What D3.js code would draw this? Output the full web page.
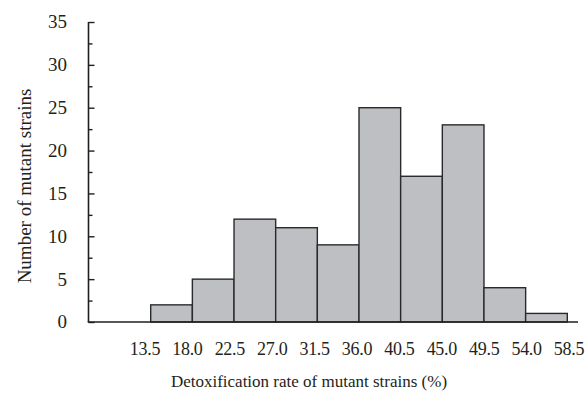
<!DOCTYPE html>
<html>
<head>
<meta charset="utf-8">
<script src="https://cdn.jsdelivr.net/npm/d3@7"></script>
<style>
  body { margin: 0; background: #fff; }
  svg text { font-family: "Liberation Serif", "Times New Roman", serif; fill: #231f20; }
</style>
</head>
<body>
<div id="chart"></div>
<script>
// bin edges (detoxification rate, %) and counts per bin
var binEdges = [13.5, 18.0, 22.5, 27.0, 31.5, 36.0, 40.5, 45.0, 49.5, 54.0, 58.5];
var counts = [2, 5, 12, 11, 9, 25, 17, 23, 4, 1];
var yMajorTicks = [0, 5, 10, 15, 20, 25, 30, 35];
var yMinorTicks = [2.5, 7.5, 12.5, 17.5, 22.5, 27.5, 32.5];

var cfg = {
    width: 588,
    height: 394,
    axisLeft: 88.5,
    axisRight: 578,
    top: 22,
    bottom: 322
};

var svg = d3.select('#chart').append('svg')
    .attr('width', cfg.width)
    .attr('height', cfg.height);

var bins = counts.map(function(c, i) {
    return { x0: binEdges[i], x1: binEdges[i + 1], n: c };
});

// scales
var x = d3.scaleLinear()
    .domain([binEdges[0], binEdges[binEdges.length - 1]])
    .range([150.7, 567.3]);
// tick labels are spread a touch wider than the bars in the original
var xLab = d3.scaleLinear()
    .domain(x.domain())
    .range([145, 569]);
var y = d3.scaleLinear()
    .domain([0, 35])
    .range([cfg.bottom, cfg.top]);

// bars
svg.append('g').classed('bars', true)
    .selectAll('rect')
    .data(bins)
    .enter()
    .append('rect')
    .attr('x', function(d) { return x(d.x0); })
    .attr('width', function(d) { return x(d.x1) - x(d.x0); })
    .attr('y', function(d) { return y(d.n); })
    .attr('height', function(d) { return y(0) - y(d.n); })
    .attr('fill', '#bebfc2')
    .attr('stroke', '#2b2a2b')
    .attr('stroke-width', 1.4);

// y axis: ticks point inward
var yAxis = d3.axisRight(y).tickValues(yMajorTicks).tickSize(6).tickFormat('');
svg.append('g')
    .attr('transform', 'translate(' + cfg.axisLeft + ',0)')
    .call(function(g) {
        g.call(yAxis);
        g.select('.domain').remove();
        g.selectAll('.tick line').attr('stroke', '#231f20').attr('stroke-width', 1.4);
    });
svg.append('g')
    .attr('transform', 'translate(' + cfg.axisLeft + ',0)')
    .call(function(g) {
        g.call(d3.axisRight(y).tickValues(yMinorTicks).tickSize(4).tickFormat(''));
        g.select('.domain').remove();
        g.selectAll('.tick line').attr('stroke', '#231f20').attr('stroke-width', 1.4);
    });

// axis lines
svg.append('line')
    .attr('x1', cfg.axisLeft).attr('x2', cfg.axisLeft)
    .attr('y1', y(35)).attr('y2', y(0))
    .attr('stroke', '#231f20').attr('stroke-width', 1.6);
svg.append('line')
    .attr('x1', cfg.axisLeft - 0.8).attr('x2', cfg.axisRight)
    .attr('y1', y(0)).attr('y2', y(0))
    .attr('stroke', '#231f20').attr('stroke-width', 1.6);

// y tick labels
svg.selectAll('.ylab')
    .data(yMajorTicks)
    .enter()
    .append('text')
    .classed('ylab', true)
    .attr('x', 67)
    .attr('y', function(d) { return y(d); })
    .attr('dy', '0.34em')
    .attr('text-anchor', 'end')
    .style('font-size', '19px')
    .text(function(d) { return d; });

// x tick labels at bin edges
svg.selectAll('.xlab')
    .data(binEdges)
    .enter()
    .append('text')
    .classed('xlab', true)
    .attr('x', function(d) { return xLab(d); })
    .attr('y', 355)
    .attr('text-anchor', 'middle')
    .style('font-size', '18px')
    .style('letter-spacing', '-0.3px')
    .text(function(d) { return d3.format('.1f')(d); });

// axis titles
svg.append('text')
    .attr('transform', 'translate(31,186) rotate(-90)')
    .attr('text-anchor', 'middle')
    .style('font-size', '19px')
    .text('Number of mutant strains');

svg.append('text')
    .attr('x', 309)
    .attr('y', 387)
    .attr('text-anchor', 'middle')
    .style('font-size', '17px')
    .text('Detoxification rate of mutant strains (%)');
</script>
</body>
</html>
